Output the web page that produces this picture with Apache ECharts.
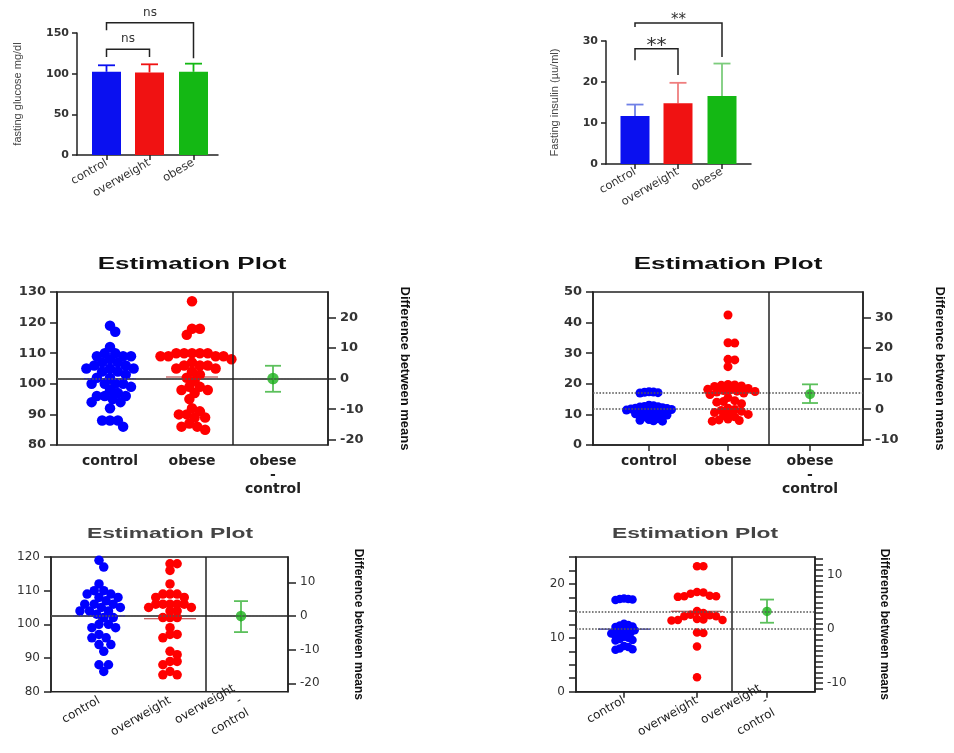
<!DOCTYPE html>
<html>
<head>
<meta charset="utf-8">
<script src="https://cdn.jsdelivr.net/npm/echarts@6.0.0/dist/echarts.min.js"></script>
<style>html,body{margin:0;padding:0;background:#fff}#main{width:954px;height:753px}</style>
</head>
<body>
<div id="main"></div>
<script>
// ---- values ----
var barGroups = ['control', 'overweight', 'obese'];
var glucoseMean = [102.3, 101.5, 102.3];
var glucoseSD = [8, 10, 10];
var insulinMean = [11.7, 14.8, 16.6];
var insulinSD = [2.8, 5.0, 7.9];
// [from, to, bracket top, left leg end, right leg end, label]
var glucoseBrackets = [[0, 1, 130, 120.5, 120.5, 'ns'], [0, 2, 162.5, 153.5, 119, 'ns']];
var insulinBrackets = [[0, 1, 28.1, 25.3, 21.7, '**'], [0, 2, 34.4, 33.4, 26.1, '**']];

var glucoseControl = [119, 117, 112, 110, 110, 109, 109, 109, 108, 107, 107, 106, 106, 105, 105, 105, 104, 104, 103, 102, 102, 100, 100, 100, 100, 99, 98, 97, 96, 96, 96, 95, 94, 94, 92, 88, 88, 88, 86];
var glucoseObese = [127, 118, 118, 116, 110, 110, 110, 110, 110, 109, 109, 109, 109, 108, 107, 106, 106, 106, 105, 105, 104, 103, 102, 101, 99, 99, 98, 98, 97, 95, 92, 91, 90, 90, 89, 89, 87, 86, 86, 85];
var insulinControl = [17.4, 17.3, 17.2, 17.1, 17.0, 13.0, 12.8, 12.6, 12.5, 12.4, 12.2, 12.0, 11.9, 11.8, 11.6, 11.5, 11.4, 11.2, 11.0, 10.8, 10.6, 10.4, 10.2, 10.0, 9.8, 9.5, 9.2, 8.6, 8.3, 8.1, 7.9, 7.8];
var insulinObese = [42.5, 33.4, 33.3, 28.0, 27.8, 25.6, 19.8, 19.6, 19.5, 19.3, 19.1, 18.5, 18.2, 18.0, 17.8, 17.6, 17.5, 17.3, 17.0, 16.5, 15.5, 14.5, 14.2, 14.0, 13.5, 12.0, 11.6, 11.3, 11.0, 10.6, 10.3, 10.0, 9.6, 9.2, 8.5, 8.2, 8.0, 7.8];
var glucoseControl2 = [119, 117, 112, 110, 110, 109, 109, 108, 108, 107, 106, 106, 106, 105, 105, 104, 104, 104, 103, 102, 102, 100, 100, 99, 99, 97, 96, 96, 94, 94, 92, 88, 88, 86];
var glucoseOverweight = [118, 118, 116, 112, 109, 109, 109, 108, 108, 106, 106, 106, 106, 106, 105, 105, 104, 104, 102, 102, 102, 99, 97, 97, 96, 92, 91, 89, 89, 88, 86, 85, 85];
var insulinControl2 = [17.3, 17.2, 17.2, 17.1, 17.0, 12.6, 12.4, 12.3, 12.1, 12.0, 11.8, 11.6, 11.5, 11.4, 11.2, 11.0, 10.9, 10.8, 10.6, 10.4, 10.2, 10.0, 9.8, 9.6, 9.5, 8.5, 8.3, 8.0, 7.9, 7.8];
var insulinOverweight = [23.3, 23.3, 18.5, 18.4, 18.2, 17.8, 17.7, 17.7, 17.6, 15.0, 14.6, 14.3, 14.2, 14.0, 14.0, 13.5, 13.4, 13.3, 13.3, 13.2, 11.0, 10.9, 8.4, 2.7];

// mean difference with its interval: [diff, low, high]
var diffGlucoseObese = [0, -4.3, 4.2];
var diffInsulinObese = [4.9, 2.0, 8.1];
var diffGlucoseOverweight = [0, -4.8, 4.4];
var diffInsulinOverweight = [3.3, 1.2, 5.5];

// ---- styling ----
var BLUE = '#0000ff', RED = '#ff0000', GREEN = '#1cb01c';
var barColors = ['#0a10f0', '#f01212', '#14b814'];
var AX = { color: '#222', width: 1.5 };

var chart = echarts.init(document.getElementById('main'));
var grids = [], xAxes = [], yAxes = [], series = [], graphics = [];

function mean(a) {
  return a.reduce(function (s, v) { return s + v; }, 0) / a.length;
}

function font(size, bold, color, family) {
  return { fontFamily: family || 'DejaVu Sans', fontSize: size, fontWeight: bold ? 'bold' : 'normal', color: color || '#222' };
}

function labelFor(pos, names) {
  return function (v) {
    for (var i = 0; i < pos.length; i++) if (Math.abs(pos[i] - v) < 0.5) return names[i];
    return '';
  };
}

// simple beeswarm: offsets in px so dots do not overlap too much
function swarm(values, pxPerUnit, dot, sep) {
  var placed = [], out = [];
  var idx = values.map(function (v, i) { return i; });
  idx.sort(function (p, q) { return values[q] - values[p]; });
  var minD = dot * sep, step = dot * 0.25;
  idx.forEach(function (i) {
    var y = values[i] * pxPerUnit, x = 0;
    for (var k = 0; k < 400; k++) {
      x = (k % 2 ? 1 : -1) * Math.ceil(k / 2) * step;
      var ok = placed.every(function (p) {
        var dx = p[0] - x, dy = p[1] - y;
        return dx * dx + dy * dy >= minD * minD;
      });
      if (ok) break;
    }
    placed.push([x, y]);
    out[i] = x;
  });
  return out;
}

function addBarPanel(g, means, sds, errColors, brackets) {
  var gi = grids.length;
  grids.push({ left: g.left, top: g.top, width: g.width, height: g.height });
  xAxes.push({
    type: 'value', gridIndex: gi, min: 0, max: g.width,
    axisLine: { show: true, lineStyle: AX },
    axisTick: { show: true, length: 5, customValues: g.cats, lineStyle: AX },
    axisLabel: Object.assign({ customValues: g.cats, rotate: 30, margin: 7, formatter: labelFor(g.cats, barGroups) }, font(11.5, false, '#333')),
    splitLine: { show: false }
  });
  var yi = yAxes.length;
  yAxes.push({
    type: 'value', gridIndex: gi, min: 0, max: g.yMax, interval: g.yStep,
    name: g.yName, nameLocation: 'middle', nameGap: g.nameGap,
    nameTextStyle: font(11, false, '#444', 'Liberation Sans'),
    axisLine: { show: true, lineStyle: AX },
    axisTick: { show: true, length: 5, lineStyle: AX },
    axisLabel: Object.assign({ margin: 8 }, font(11, true, '#333')),
    splitLine: { show: false }
  });
  series.push({
    type: 'bar', xAxisIndex: gi, yAxisIndex: yi, barWidth: 29,
    data: means.map(function (m, i) { return { value: [g.cats[i], m], itemStyle: { color: barColors[i] } }; })
  });
  series.push({
    type: 'custom', xAxisIndex: gi, yAxisIndex: yi,
    data: means.map(function (m, i) { return [g.cats[i], m, m + sds[i], i]; }),
    renderItem: function (p, api) {
      var a = api.coord([api.value(0), api.value(1)]);
      var b = api.coord([api.value(0), api.value(2)]);
      var st = { stroke: errColors[api.value(3)], lineWidth: 1.8 };
      return { type: 'group', children: [
        { type: 'line', shape: { x1: a[0], y1: a[1], x2: b[0], y2: b[1] }, style: st },
        { type: 'line', shape: { x1: b[0] - 8.5, y1: b[1], x2: b[0] + 8.5, y2: b[1] }, style: st }
      ] };
    }
  });
  series.push({
    type: 'custom', xAxisIndex: gi, yAxisIndex: yi, clip: false,
    data: brackets.map(function (b, i) { return [g.cats[b[0]], g.cats[b[1]], b[2], b[3], b[4], i]; }),
    renderItem: function (p, api) {
      var x1 = api.value(0), x2 = api.value(1), top = api.value(2);
      var i = api.value(5);
      var p1 = api.coord([x1, api.value(3)]), p2 = api.coord([x1, top]);
      var p3 = api.coord([x2, top]), p4 = api.coord([x2, api.value(4)]);
      return { type: 'group', children: [
        { type: 'polyline', shape: { points: [p1, p2, p3, p4] }, style: { stroke: '#222', lineWidth: 1.5, fill: null } },
        { type: 'text', x: (p2[0] + p3[0]) / 2, y: p2[1] - g.labelLift,
          style: { text: brackets[i][5], font: g.labelFonts[i], fill: '#333', align: 'center', textAlign: 'center', verticalAlign: 'middle', textVerticalAlign: 'middle' } }
      ] };
    }
  });
}

function addEstPanel(c) {
  var gi = grids.length;
  grids.push({ left: c.left, top: c.top, width: c.width, height: c.height, show: true, borderColor: '#222', borderWidth: 1.5, backgroundColor: 'transparent' });
  xAxes.push({
    type: 'value', gridIndex: gi, min: 0, max: c.width,
    axisLine: { show: true, lineStyle: AX },
    axisTick: { show: true, length: 6, customValues: c.cats, lineStyle: AX },
    axisLabel: Object.assign({ customValues: c.cats, rotate: c.rotate, margin: c.labelMargin, lineHeight: 14,
      formatter: labelFor(c.cats, c.labels) }, c.catFont),
    splitLine: { show: false }
  });
  var mA = mean(c.a), mB = mean(c.b);
  var left = yAxes.length;
  yAxes.push({
    type: 'value', gridIndex: gi, min: c.yMin, max: c.yMax,
    axisLine: { show: true, lineStyle: AX },
    axisTick: { show: true, length: 7, customValues: c.leftTicks, lineStyle: AX },
    axisLabel: Object.assign({ customValues: c.leftLabels, margin: 11 }, c.tickFont),
    splitLine: { show: false }
  });
  yAxes.push({
    type: 'value', gridIndex: gi, position: 'right', min: c.yMin - mA, max: c.yMax - mA,
    name: 'Difference between means', nameLocation: 'middle', nameRotate: -90, nameGap: c.nameGap,
    nameTextStyle: font(c.nameSize, true, '#111', 'Liberation Sans'),
    axisLine: { show: true, lineStyle: AX },
    axisTick: { show: true, length: 8, customValues: c.rightTicks, lineStyle: AX },
    axisLabel: Object.assign({ customValues: c.rightLabels, margin: 12 }, c.tickFont),
    splitLine: { show: false }
  });
  var ppu = c.height / (c.yMax - c.yMin);
  var offA = swarm(c.a, ppu, c.dot, c.sep[0]), offB = swarm(c.b, ppu, c.dot, c.sep[1]);
  var lines = [{ yAxis: mA }];
  if (c.bothLines) lines.push({ yAxis: mB });
  lines.push({ xAxis: c.divider, lineStyle: { type: 'solid', color: '#222', width: 1.5 } });
  series.push({
    type: 'custom', xAxisIndex: gi, yAxisIndex: left, z: 1,
    data: [[c.cats[0], mA, 0], [c.cats[1], mB, 1]],
    renderItem: function (p, api) {
      var a = api.coord([api.value(0) - 26, api.value(1)]), b = api.coord([api.value(0) + 26, api.value(1)]);
      return { type: 'line', shape: { x1: a[0], y1: a[1], x2: b[0], y2: b[1] },
        style: { stroke: api.value(2) ? '#b03030' : '#3030a0', lineWidth: 1.2 } };
    }
  });
  series.push({
    type: 'scatter', xAxisIndex: gi, yAxisIndex: left, symbolSize: c.dot, z: 2,
    itemStyle: { color: BLUE, opacity: 1 },
    data: c.a.map(function (v, i) { return [c.cats[0] + offA[i], v]; }),
    markLine: { silent: true, symbol: ['none', 'none'], label: { show: false },
      lineStyle: { type: 'dotted', color: '#555', width: 1.6 }, data: lines }
  });
  series.push({
    type: 'scatter', xAxisIndex: gi, yAxisIndex: left, symbolSize: c.dot, z: 2,
    itemStyle: { color: RED, opacity: 1 },
    data: c.b.map(function (v, i) { return [c.cats[1] + offB[i], v]; })
  });
  series.push({
    type: 'custom', xAxisIndex: gi, yAxisIndex: left + 1, z: 3,
    data: [[c.cats[2], c.diff[1], c.diff[2]]],
    renderItem: function (p, api) {
      var lo = api.coord([api.value(0), api.value(1)]), hi = api.coord([api.value(0), api.value(2)]);
      var st = { stroke: '#5cc05c', lineWidth: 1.8 }, w = c.cap;
      return { type: 'group', children: [
        { type: 'line', shape: { x1: lo[0], y1: lo[1], x2: hi[0], y2: hi[1] }, style: st },
        { type: 'line', shape: { x1: lo[0] - w, y1: lo[1], x2: lo[0] + w, y2: lo[1] }, style: st },
        { type: 'line', shape: { x1: hi[0] - w, y1: hi[1], x2: hi[0] + w, y2: hi[1] }, style: st }
      ] };
    }
  });
  series.push({
    type: 'scatter', xAxisIndex: gi, yAxisIndex: left + 1, symbolSize: c.dot + 1, z: 4,
    itemStyle: { color: GREEN },
    data: [[c.cats[2], c.diff[0]]]
  });
  graphics.push({
    type: 'text', x: c.title[0], y: c.title[1], scaleX: c.title[3],
    style: { text: 'Estimation Plot', font: c.title[2], fill: c.title[4], align: 'center', textAlign: 'center', verticalAlign: 'middle', textVerticalAlign: 'middle' }
  });
}

function range(a, b, s) {
  var r = [];
  for (var v = a; v <= b + 1e-9; v += s) r.push(Math.round(v * 100) / 100);
  return r;
}

addBarPanel({ left: 77, top: 33, width: 141, height: 122, cats: [29.5, 72.5, 116.5], yMax: 150, yStep: 50,
  yName: 'fasting glucose mg/dl', nameGap: 54, labelLift: 10,
  labelFonts: ['12px "DejaVu Sans"', '12px "DejaVu Sans"'] },
  glucoseMean, glucoseSD, barColors, glucoseBrackets);

addBarPanel({ left: 606, top: 41, width: 145, height: 123, cats: [29, 72, 116], yMax: 30, yStep: 10,
  yName: 'Fasting insulin (\u00b5u/ml)', nameGap: 46, labelLift: 3,
  labelFonts: ['20px "DejaVu Sans"', '15px "DejaVu Sans"'] },
  insulinMean, insulinSD, ['#6f80e6', '#ef7e7e', '#7ccc7c'], insulinBrackets);

var midCat = font(14, true, '#222');
var midTick = font(13, true, '#333');
var lowCat = font(12, false, '#222');
var lowTick = font(12, false, '#333');

addEstPanel({ left: 57, top: 292, width: 271, height: 153, yMin: 80, yMax: 130,
  leftTicks: range(80, 130, 10), leftLabels: range(80, 130, 10),
  rightTicks: [-20, -10, 0, 10, 20], rightLabels: [-20, -10, 0, 10, 20],
  cats: [53, 135, 216], divider: 176, labels: ['control', 'obese', 'obese\n-\ncontrol'],
  rotate: 0, labelMargin: 9, catFont: midCat, tickFont: midTick, nameGap: 70, nameSize: 13,
  a: glucoseControl, b: glucoseObese, diff: diffGlucoseObese, dot: 10.5, sep: [0.72, 0.66], cap: 8, bothLines: false,
  title: [192, 265, 'bold 16px "Liberation Sans"', 1.62, '#111'] });

addEstPanel({ left: 593, top: 292, width: 270, height: 153, yMin: 0, yMax: 50,
  leftTicks: range(0, 50, 10), leftLabels: range(0, 50, 10),
  rightTicks: [-10, 0, 10, 20, 30], rightLabels: [-10, 0, 10, 20, 30],
  cats: [56, 135, 217], divider: 176, labels: ['control', 'obese', 'obese\n-\ncontrol'],
  rotate: 0, labelMargin: 9, catFont: midCat, tickFont: midTick, nameGap: 70, nameSize: 13,
  a: insulinControl, b: insulinObese, diff: diffInsulinObese, dot: 9, sep: [0.48, 0.62], cap: 8, bothLines: true,
  title: [728, 265, 'bold 16px "Liberation Sans"', 1.62, '#111'] });

addEstPanel({ left: 51, top: 557, width: 237, height: 135, yMin: 80, yMax: 120,
  leftTicks: range(80, 120, 10), leftLabels: range(80, 120, 10),
  rightTicks: [-20, -10, 0, 10], rightLabels: [-20, -10, 0, 10],
  cats: [48, 119, 190], divider: 155, labels: ['control', 'overweight', 'overweight\n-\ncontrol'],
  rotate: 30, labelMargin: 8, catFont: lowCat, tickFont: lowTick, nameGap: 64, nameSize: 12,
  a: glucoseControl2, b: glucoseOverweight, diff: diffGlucoseOverweight, dot: 9.5, sep: [0.78, 0.7], cap: 7, bothLines: false,
  title: [170, 534, 'bold 14px "Liberation Sans"', 1.63, '#444'] });

addEstPanel({ left: 576, top: 557, width: 239, height: 135, yMin: 0, yMax: 25,
  leftTicks: range(0, 25, 2.5), leftLabels: [0, 10, 20],
  rightTicks: range(-11, 13, 1), rightLabels: [-10, 0, 10],
  cats: [48, 121, 191], divider: 156, labels: ['control', 'overweight', 'overweight\n-\ncontrol'],
  rotate: 30, labelMargin: 8, catFont: lowCat, tickFont: lowTick, nameGap: 63, nameSize: 12,
  a: insulinControl2, b: insulinOverweight, diff: diffInsulinOverweight, dot: 8.5, sep: [0.5, 0.75], cap: 7, bothLines: true,
  title: [695, 534, 'bold 14px "Liberation Sans"', 1.63, '#444'] });

chart.setOption({
  backgroundColor: '#fff',
  animation: false,
  grid: grids,
  xAxis: xAxes,
  yAxis: yAxes,
  series: series,
  graphic: graphics
});
</script>
</body>
</html>
